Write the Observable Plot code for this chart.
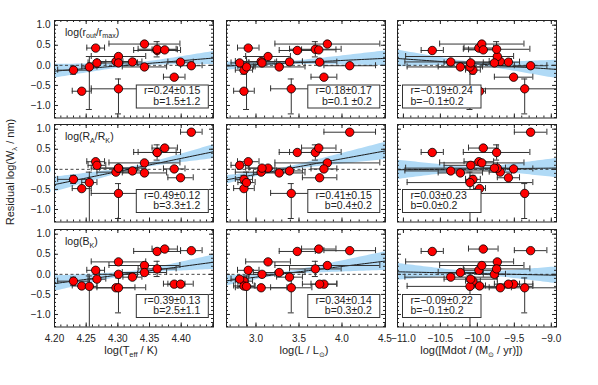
<!DOCTYPE html>
<html><head><meta charset="utf-8">
<script src="https://cdn.jsdelivr.net/npm/d3@7"></script>
<script src="https://cdn.jsdelivr.net/npm/@observablehq/plot@0.6"></script>
<style>
body{margin:0;background:#fff;}
#chart{position:relative;width:598px;height:385px;background:#fff;font-family:"Liberation Sans",Arial,sans-serif;overflow:hidden;}
.panel{position:absolute;}
.panel svg{overflow:visible;background:transparent;}
</style></head><body><div id="chart"></div>
<script>
// ---- data (one entry per star) ----
const logTeff      = [4.230,4.243,4.255,4.265,4.267,4.297,4.301,4.301,4.301,4.323,4.342,4.342,4.362,4.362,4.374,4.389,4.399,4.416];
const logTeffErr   = [0.025,0.015,0.012,0.014,0.014,0.030,0.043,0.043,0.030,0.015,0.056,0.035,0.037,0.030,0.020,0.017,0.020,0.017];
const logL         = [2.86,2.86,2.89,2.91,2.81,3.06,3.14,3.41,3.07,3.39,3.83,3.27,3.48,3.69,3.73,3.79,3.74,4.09];
const logLErr      = [0.10,0.12,0.10,0.125,0.10,0.30,0.26,0.24,0.15,0.15,0.61,0.30,0.21,0.30,0.20,0.15,0.20,0.30];
const logMdot      = [-10.06,-9.97,-10.10,-9.98,-10.09,-9.69,-9.73,-9.36,-9.77,-10.36,-9.94,-10.23,-10.61,-9.74,-9.92,-9.51,-9.58,-9.28];
const logMdotErrLo = [0.10,0.08,0.85,0.20,0.36,0.15,1.24,0.72,0.15,0.62,0.57,0.30,0.15,0.45,0.20,0.26,0.15,0.22];
const logMdotErrHi = [0.10,0.08,0.85,0.20,0.36,0.15,0.22,0.72,0.15,0.62,0.57,0.30,0.15,0.45,0.20,0.26,0.15,0.22];
const resRoutRmax  = [-0.12,-0.645,-0.04,0.43,0.06,0.095,0.22,-0.585,0.06,0.085,0.53,-0.04,0.37,0.40,0.385,-0.295,0.08,-0.01];
const resRARK      = [-0.25,-0.48,-0.33,0.19,0.10,-0.07,0.03,-0.60,0.03,-0.04,0.16,-0.09,0.42,0.42,0.53,0.01,-0.21,0.925];
const resBK        = [-0.17,-0.29,-0.30,0.10,-0.12,-0.335,0.31,-0.335,0.0,-0.07,0.22,0.045,0.57,0.135,0.63,-0.245,-0.245,0.59];
const resErrLo     = [0.10,0.05,1.06,0.05,0.05,0.05,0.05,0.625,0.05,0.05,0.05,0.05,0.05,0.19,0.05,0.05,0.05,0.05];
const resErrHi     = [0.10,0.05,0.26,0.05,0.05,0.05,0.05,0.245,0.05,0.05,0.05,0.05,0.05,0.19,0.05,0.05,0.05,0.05];

// ---- fits (rows: r_out/r_max, R_A/R_K, B_K ; cols: Teff, L, Mdot) ----
const fitPivot     = [[4.33,3.30,-10.05],[4.33,3.25,-10.0],[4.33,3.30,-10.0]];
const fitAtPivot   = [[0.024,0.048,0.04],[0.044,-0.03,0.01],[0.045,0.01,0.02]];
const fitSlope     = [[1.3,0.105,-0.126],[3.26,0.39,0.02],[2.12,0.266,-0.04]];
const bandHalfMin  = [[0.04,0.04,0.04],[0.04,0.035,0.04],[0.04,0.035,0.04]];
const bandSlopeErr = [[1.3,0.15,0.2],[1.4,0.17,0.22],[1.45,0.19,0.19]];
const rText = [["r=0.24±0.15","r=0.18±0.17","r=−0.19±0.24"],["r=0.49±0.12","r=0.41±0.15","r=0.03±0.23"],["r=0.39±0.13","r=0.34±0.14","r=−0.09±0.22"]];
const bText = [["b=1.5±1.2","b=0.1 ±0.2","b=−0.1±0.2"],["b=3.3±1.2","b=0.4±0.2","b=0.0±0.2"],["b=2.5±1.1","b=0.3±0.2","b=−0.1±0.2"]];

// ---- ticks ----
const teffTicks = [4.20,4.25,4.30,4.35,4.40];
const lumTicks  = [3.0,3.5,4.0,4.5];
const mdotTicks = [-11.0,-10.5,-10.0,-9.5,-9.0];
const resTicks  = [-1.0,-0.5,0.0,0.5,1.0];

const chart = document.getElementById("chart");
const colLeft = [54, 225.5, 397], rowTop = [19.5, 124, 229], PW = 159, PH = 97.5;
const mL = 30, mR = 20, mT = 10, mB = 40;
const yDomain = [-1.312, 1.117];
const yMinor = d3.range(-13, 12).map(v => v / 10);
const fmtMinus = s => s.replace(/-/g, "−");
const residuals = [resRoutRmax, resRARK, resBK];
const cols = [
  {x: logTeff, lo: logTeffErr, hi: logTeffErr, domain: [4.20, 4.451], major: [4.20,4.25,4.30,4.35,4.40,4.45], labels: teffTicks, minor: d3.range(420, 446).map(v => v / 100), fmt: d => d.toFixed(2)},
  {x: logL, lo: logLErr, hi: logLErr, domain: [2.657, 4.506], major: [3.0,3.5,4.0,4.5], labels: lumTicks, minor: d3.range(27, 46).map(v => v / 10), fmt: d => d.toFixed(1)},
  {x: logMdot, lo: logMdotErrLo, hi: logMdotErrHi, domain: [-11.08, -8.93], major: [-11,-10.5,-10,-9.5,-9], labels: mdotTicks, minor: d3.range(-110, -89).map(v => v / 10), fmt: d => fmtMinus(d.toFixed(1))}
];
const INK = "#222", BAR = "#333";

for (let r = 0; r < 3; r++) {
  for (let c = 0; c < 3; c++) {
    const col = cols[c], dom = col.domain, res = residuals[r];
    const kx = PW / (dom[1] - dom[0]), ky = PH / (yDomain[1] - yDomain[0]);
    const capX = 3 / kx, capY = 3 / ky;
    const pts = res.map((v, i) => ({x: col.x[i], xlo: col.x[i] - col.lo[i], xhi: col.x[i] + col.hi[i], y: v, ylo: v - resErrLo[i], yhi: v + resErrHi[i]}));
    const xCaps = pts.flatMap(p => [{x: p.xlo, y: p.y}, {x: p.xhi, y: p.y}]);
    const yCaps = pts.flatMap(p => [{x: p.x, y: p.ylo}, {x: p.x, y: p.yhi}]);
    const x0 = fitPivot[r][c], y0 = fitAtPivot[r][c], s = fitSlope[r][c], w0 = bandHalfMin[r][c], se = bandSlopeErr[r][c];
    const band = d3.range(0, 61).map(k => {
      const x = dom[0] + (dom[1] - dom[0]) * k / 60, dx = x - x0, mid = y0 + s * dx;
      const w = Math.sqrt(w0 * w0 + (se * dx) ** 2);
      return {x, mid, lo: mid - w, hi: mid + w};
    });
    const marks = [
      Plot.areaY(band, {x: "x", y1: "lo", y2: "hi", fill: "#b0daf6", clip: true}),
      Plot.ruleY([0], {stroke: "#333", strokeWidth: 0.9, strokeDasharray: "3,2.5"}),
      Plot.line(band, {x: "x", y: "mid", stroke: "#1a1a1a", strokeWidth: 1, clip: true}),
      Plot.ruleY(pts, {y: "y", x1: "xlo", x2: "xhi", stroke: BAR, strokeWidth: 1, clip: true}),
      Plot.ruleX(xCaps, {x: "x", y1: d => d.y - capY, y2: d => d.y + capY, stroke: BAR, strokeWidth: 1, clip: true}),
      Plot.ruleX(pts, {x: "x", y1: "ylo", y2: "yhi", stroke: BAR, strokeWidth: 1, clip: true}),
      Plot.ruleY(yCaps, {y: "y", x1: d => d.x - capX, x2: d => d.x + capX, stroke: BAR, strokeWidth: 1, clip: true}),
      Plot.dot(pts, {x: "x", y: "y", r: 4.2, fill: "#ff0000", stroke: "#000", strokeWidth: 0.8}),
      Plot.frame({stroke: INK, strokeWidth: 1}),
      Plot.ruleX(col.major, {x: d => d, y1: yDomain[0], y2: yDomain[0] + 4 / ky, stroke: INK}),
      Plot.ruleX(col.major, {x: d => d, y1: yDomain[1], y2: yDomain[1] - 4 / ky, stroke: INK}),
      Plot.ruleX(col.minor, {x: d => d, y1: yDomain[0], y2: yDomain[0] + 2 / ky, stroke: INK}),
      Plot.ruleX(col.minor, {x: d => d, y1: yDomain[1], y2: yDomain[1] - 2 / ky, stroke: INK}),
      Plot.ruleY(resTicks, {y: d => d, x1: dom[0], x2: dom[0] + 4 / kx, stroke: INK}),
      Plot.ruleY(resTicks, {y: d => d, x1: dom[1], x2: dom[1] - 4 / kx, stroke: INK}),
      Plot.ruleY(yMinor, {y: d => d, x1: dom[0], x2: dom[0] + 2 / kx, stroke: INK}),
      Plot.ruleY(yMinor, {y: d => d, x1: dom[1], x2: dom[1] - 2 / kx, stroke: INK})
    ];
    if (r === 2) marks.push(Plot.axisX({anchor: "bottom", ticks: col.labels, tickSize: 0, tickPadding: 8, tickFormat: col.fmt, label: null, fontSize: 10}));
    if (c === 0) marks.push(Plot.axisY({anchor: "left", ticks: resTicks, tickSize: 0, tickPadding: 4, tickFormat: d => fmtMinus(d.toFixed(1)), label: null, fontSize: 10}));
    const svg = Plot.plot({
      width: PW + mL + mR, height: PH + mT + mB,
      marginLeft: mL, marginRight: mR, marginTop: mT, marginBottom: mB,
      x: {domain: dom, axis: null},
      y: {domain: yDomain, axis: null},
      style: {background: "transparent", overflow: "visible", fontFamily: '"Liberation Sans", Arial, sans-serif', fontSize: "10px", color: INK},
      marks
    });
    const div = document.createElement("div");
    div.className = "panel";
    div.style.left = (colLeft[c] - mL) + "px";
    div.style.top = (rowTop[r] - mT) + "px";
    div.appendChild(svg);
    chart.appendChild(div);
  }
}

// ---- overlay: text boxes, labels, titles ----
const ov = d3.select(chart).append("svg")
  .attr("width", 598).attr("height", 385)
  .style("position", "absolute").style("left", "0px").style("top", "0px").style("overflow", "visible")
  .attr("font-family", '"Liberation Sans", Arial, sans-serif').attr("fill", INK);

for (let r = 0; r < 3; r++) {
  for (let c = 0; c < 3; c++) {
    const bw = c < 2 ? 72 : 78.5, bh = 23;
    const bx = c < 2 ? colLeft[c] + PW - 4.7 - bw : colLeft[c] + 5.5;
    const by = rowTop[r] + PH - 9 - bh;
    ov.append("rect").attr("x", bx).attr("y", by).attr("width", bw).attr("height", bh)
      .attr("fill", "#fff").attr("stroke", "#333").attr("stroke-width", 1);
    const tx = c < 2 ? bx + bw - 8 : bx + 8, anchor = c < 2 ? "end" : "start";
    ov.append("text").attr("x", tx).attr("y", by + 9.3).attr("text-anchor", anchor).attr("font-size", 10.5).text(rText[r][c]);
    ov.append("text").attr("x", tx).attr("y", by + 19.9).attr("text-anchor", anchor).attr("font-size", 10.5).style("white-space", "pre").text(bText[r][c]);
  }
}

function rich(parent, parts, size) {
  let shifted = false;
  parts.forEach(([t, sub]) => {
    const ts = parent.append("tspan").text(t);
    if (sub && !shifted) { ts.attr("font-size", size * 0.68).attr("dy", size * 0.28); shifted = true; }
    else if (!sub && shifted) { ts.attr("dy", -size * 0.28); shifted = false; }
    else if (sub) ts.attr("font-size", size * 0.68);
  });
}

const rowLabels = [
  [["log(r"], ["out", 1], ["/r"], ["max", 1], [")"]],
  [["log(R"], ["A", 1], ["/R"], ["K", 1], [")"]],
  [["log(B"], ["K", 1], [")"]]
];
rowLabels.forEach((parts, r) => {
  const t = ov.append("text").attr("x", 65).attr("y", rowTop[r] + 16).attr("font-size", 10.5).style("white-space", "pre");
  rich(t, parts, 10.5);
});

const xTitles = [
  [131, [["log(T"], ["eff", 1], [" / K)"]]],
  [304, [["log(L / L"], ["⊙", 1], [")"]]],
  [471.5, [["log([Mdot / (M"], ["⊙", 1], [" / yr)])"]]]
];
xTitles.forEach(([cx, parts]) => {
  const t = ov.append("text").attr("x", cx).attr("y", 353.5).attr("text-anchor", "middle").attr("font-size", 11).style("white-space", "pre");
  rich(t, parts, 11);
});

const yt = ov.append("text").attr("transform", "translate(14,172) rotate(-90)").attr("text-anchor", "middle").attr("font-size", 11).style("white-space", "pre");
rich(yt, [["Residual log(W"], ["λ", 1], [" / nm)"]], 11);
</script>
</body></html>
